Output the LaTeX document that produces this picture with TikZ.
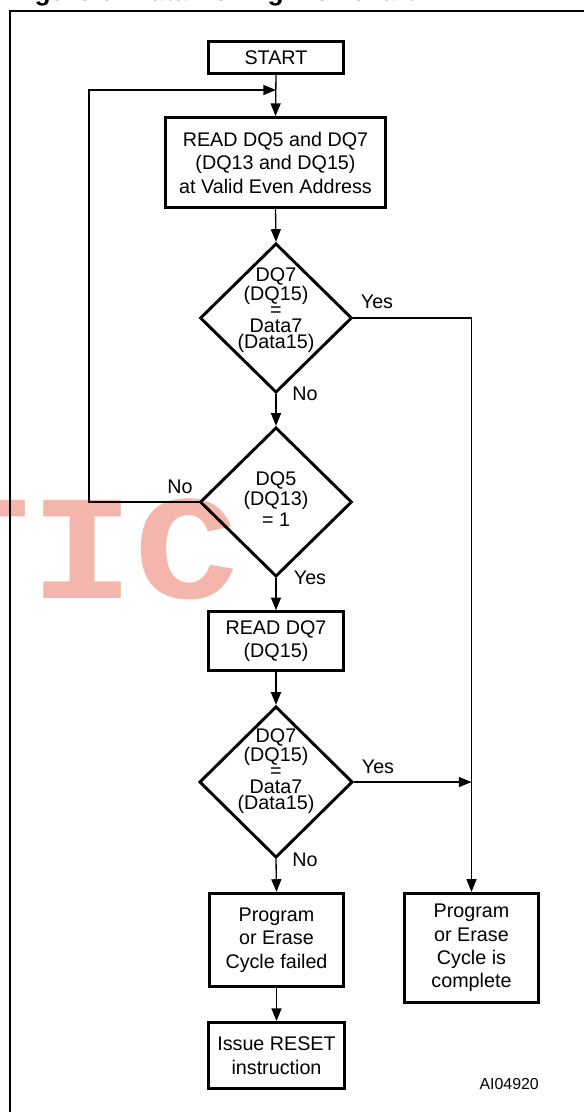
\documentclass[tikz,border=0pt]{standalone}
\usepackage{fontspec}
\setmainfont{Liberation Sans}
\newfontfamily\wmfont{Liberation Mono}
\usetikzlibrary{shapes.geometric,arrows.meta}
\definecolor{wmpink}{RGB}{244,181,173}
\begin{document}
\begin{tikzpicture}
  [x=0.75pt,y=-0.75pt,
   every node/.style={font=\fontsize{14.8pt}{17.6pt}\selectfont,inner sep=0pt},
   box/.style={draw,line width=2.2pt,align=center},
   decision/.style={draw,diamond,line width=2.2pt,minimum width=114pt,minimum height=112pt},
   dtext/.style={align=center,font=\fontsize{14.8pt}{11.8pt}\selectfont},
   arr/.style={line width=1pt,-{Triangle[length=9.5pt,width=7.5pt]}}]
  \useasboundingbox (0,0) rectangle (584,1112);
  \node[text=wmpink,anchor=base west,font=\wmfont\bfseries\fontsize{130pt}{130pt}\selectfont] (wm) at (-74,598) {\scalebox{1}[0.86]{TIC}};
  \node[anchor=base west,font=\bfseries\fontsize{19.8pt}{22pt}\selectfont] (title) at (11,0.5) {Figure 6. Data Polling Flowchart};
  \draw[line width=1.5pt] (10,1120) -- (10,11) -- (590,11);

  \node[box,minimum width=101pt,minimum height=24pt] (start) at (276,57.5) {START};
  \node[box,minimum width=165pt,minimum height=67.5pt] (read) at (275.5,162.5) {READ DQ5 and DQ7\\(DQ13 and DQ15)\\at Valid Even Address};
  \node[decision] (d1) at (276,318) {};
  \node[dtext] (d1t) at (276,310) {DQ7\\(DQ15)\\=\\Data7\\(Data15)};
  \node[decision] (d2) at (276,502) {};
  \node[dtext,font=\fontsize{14.8pt}{15.4pt}\selectfont] (d2t) at (276,499) {DQ5\\(DQ13)\\= 1};
  \node[box,minimum width=101pt,minimum height=44pt] (read7) at (276,641) {READ DQ7\\(DQ15)};
  \node[decision,minimum width=115pt,minimum height=113.5pt] (d3) at (276,782) {};
  \node[dtext] (d3t) at (276,771) {DQ7\\(DQ15)\\=\\Data7\\(Data15)};
  \node[box,minimum width=101pt,minimum height=70pt] (fail) at (276.5,940) {Program\\or Erase\\Cycle failed};
  \node[box,minimum width=102pt,minimum height=49.5pt] (reset) at (276.5,1055.5) {Issue RESET\\instruction};
  \node[box,minimum width=100.5pt,minimum height=82pt] (done) at (471.5,948) {Program\\or Erase\\Cycle is\\complete};
  \node[anchor=east,font=\fontsize{11.9pt}{14pt}\selectfont] (ref) at (539,1084) {AI04920};

  \node (y1) at (377,302) {Yes};
  \node (n1) at (305,394) {No};
  \node (n2) at (180,487) {No};
  \node (y2) at (310,578) {Yes};
  \node (y3) at (378,767) {Yes};
  \node (n3) at (305,860) {No};

  \coordinate (merge) at (276,90);
  \coordinate (turn) at (89,502);
  \foreach \from/\to in {start/read,read/d1,d1/d2,d2/read7,read7/d3,d3/fail,fail/reset}
    \draw[arr] (\from.south) -- (\to.north);
  \draw[arr] (d2.west) -- (turn) |- (merge);
  \draw[arr] (d1.east) -| (done.north);
  \draw[arr] (d3.east) -- (d3.east -| done.north);
\end{tikzpicture}
\end{document}
